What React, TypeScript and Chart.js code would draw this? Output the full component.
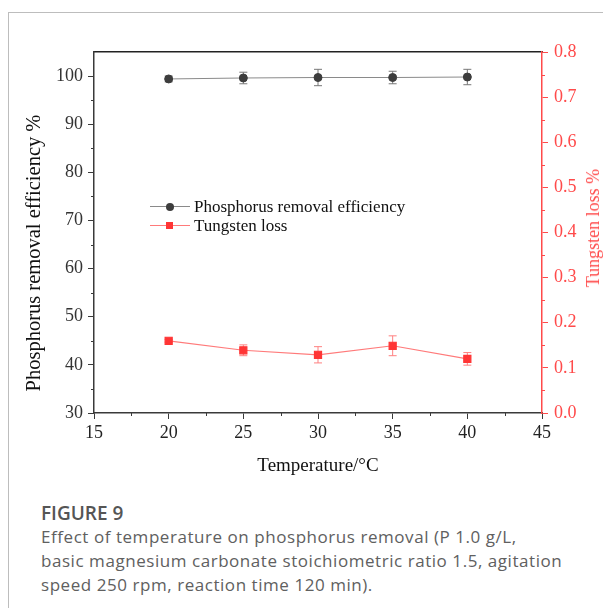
import React, { useEffect, useRef } from "react";
import { Chart, registerables } from "chart.js";
Chart.register(...registerables);

const temperatures = [20, 25, 30, 35, 40];
const phosphorusEff = [99.4, 99.6, 99.7, 99.7, 99.8];
const phosphorusErr = [0.6, 1.2, 1.7, 1.3, 1.6];
const tungstenLoss = [0.16, 0.139, 0.129, 0.149, 0.12];
const tungstenErr = [0.003, 0.012, 0.018, 0.022, 0.014];
const xTicks = [15, 20, 25, 30, 35, 40, 45];
const xMinor = [17.5, 22.5, 27.5, 32.5, 37.5, 42.5];
const leftTicks = [30, 40, 50, 60, 70, 80, 90, 100];
const leftMinor = [35, 45, 55, 65, 75, 85, 95];
const rightTicks = [0, 0.1, 0.2, 0.3, 0.4, 0.5, 0.6, 0.7, 0.8];
const rightMinor = [0.05, 0.15, 0.25, 0.35, 0.45, 0.55, 0.65, 0.75];

const SERIF = "'Liberation Serif', 'Times New Roman', serif";
const RED = "#ff4a4a";
const AXIS = "#3a3a3a";

const errorBarPlugin = {
  id: "errorBars",
  beforeDatasetDraw(chart: any, args: any) {
    const ds: any = chart.data.datasets[args.index];
    if (!ds.errors) return;
    const xs = chart.scales.x;
    const ys = chart.scales[ds.yAxisID];
    const ctx = chart.ctx;
    ctx.save();
    ctx.strokeStyle = ds.errorColor;
    ctx.lineWidth = 1;
    ds.data.forEach((p: any, i: number) => {
      const e = ds.errors[i];
      const x = xs.getPixelForValue(p.x);
      const yT = ys.getPixelForValue(p.y + e);
      const yB = ys.getPixelForValue(p.y - e);
      ctx.beginPath();
      ctx.moveTo(x, yT);
      ctx.lineTo(x, yB);
      ctx.moveTo(x - 4, yT);
      ctx.lineTo(x + 4, yT);
      ctx.moveTo(x - 4, yB);
      ctx.lineTo(x + 4, yB);
      ctx.stroke();
    });
    ctx.restore();
  },
};

const minorTickPlugin = {
  id: "minorTicks",
  afterDraw(chart: any) {
    const ctx = chart.ctx;
    const { x, y, y1 } = chart.scales;
    const a = chart.chartArea;
    ctx.save();
    ctx.lineWidth = 1;
    ctx.strokeStyle = AXIS;
    ctx.beginPath();
    xMinor.forEach((v) => {
      const px = Math.round(x.getPixelForValue(v)) + 0.5;
      ctx.moveTo(px, a.bottom);
      ctx.lineTo(px, a.bottom + 3);
    });
    leftMinor.forEach((v) => {
      const py = Math.round(y.getPixelForValue(v)) + 0.5;
      ctx.moveTo(a.left, py);
      ctx.lineTo(a.left - 3, py);
    });
    ctx.stroke();
    ctx.strokeStyle = RED;
    ctx.beginPath();
    rightMinor.forEach((v) => {
      const py = Math.round(y1.getPixelForValue(v)) + 0.5;
      ctx.moveTo(a.right, py);
      ctx.lineTo(a.right + 3, py);
    });
    ctx.stroke();
    ctx.restore();
  },
};

export default function App() {
  const ref = useRef<HTMLCanvasElement>(null);
  useEffect(() => {
    const chart = new Chart(ref.current as HTMLCanvasElement, {
      type: "line",
      data: {
        datasets: [
          {
            label: "Phosphorus removal efficiency",
            data: temperatures.map((t, i) => ({ x: t, y: phosphorusEff[i] })),
            yAxisID: "y",
            borderColor: "#8a8a8a",
            borderWidth: 1,
            pointStyle: "circle",
            pointRadius: 4,
            pointBackgroundColor: "#3d3d3d",
            pointBorderColor: "#3d3d3d",
            errors: phosphorusErr,
            errorColor: "#777777",
          } as any,
          {
            label: "Tungsten loss",
            data: temperatures.map((t, i) => ({ x: t, y: tungstenLoss[i] })),
            yAxisID: "y1",
            borderColor: "#ff7a7a",
            borderWidth: 1.2,
            pointStyle: "rect",
            pointRadius: 5,
            pointBackgroundColor: "#ff3535",
            pointBorderColor: "#ff3535",
            errors: tungstenErr,
            errorColor: "#ff8080",
          } as any,
        ],
      },
      options: {
        animation: false,
        responsive: false,
        maintainAspectRatio: false,
        layout: { padding: { top: 44, left: 0, right: 0, bottom: 0 } },
        plugins: { legend: { display: false }, tooltip: { enabled: false } },
        scales: {
          x: {
            type: "linear",
            position: "bottom",
            min: 15,
            max: 45,
            afterBuildTicks: (s: any) => {
              s.ticks = xTicks.map((v) => ({ value: v }));
            },
            afterFit: (s: any) => {
              s.height = 75;
            },
            ticks: {
              autoSkip: false,
              maxRotation: 0,
              padding: 3,
              color: "#222",
              font: { family: SERIF, size: 18 },
              callback: (v: any) => String(v),
            },
            grid: { display: true, drawOnChartArea: false, drawTicks: true, tickLength: 6, tickColor: AXIS, color: AXIS },
            border: { display: true, color: AXIS, width: 1.5 },
            title: {
              display: true,
              text: "Temperature/°C",
              color: "#111",
              font: { family: SERIF, size: 19 },
              padding: { top: 0, bottom: 11 },
            },
          },
          xTop: {
            type: "linear",
            position: "top",
            min: 15,
            max: 45,
            ticks: { display: false },
            grid: { display: false, drawTicks: false },
            border: { display: true, color: "#222", width: 1.5 },
            afterFit: (s: any) => {
              s.height = 0;
            },
          },
          y: {
            type: "linear",
            position: "left",
            min: 30,
            max: 105,
            afterBuildTicks: (s: any) => {
              s.ticks = leftTicks.map((v) => ({ value: v }));
            },
            afterFit: (s: any) => {
              s.width = 86;
            },
            ticks: {
              padding: 5,
              color: "#333",
              font: { family: SERIF, size: 18 },
              callback: (v: any) => String(v),
            },
            grid: { display: true, drawOnChartArea: false, drawTicks: true, tickLength: 6, tickColor: AXIS, color: AXIS },
            border: { display: true, color: AXIS, width: 1.5 },
            title: {
              display: true,
              text: "Phosphorus removal efficiency %        ",
              color: "#111",
              font: { family: SERIF, size: 20.5 },
              padding: { top: 14, bottom: 0 },
            },
          },
          y1: {
            type: "linear",
            position: "right",
            min: 0,
            max: 0.8,
            afterBuildTicks: (s: any) => {
              s.ticks = rightTicks.map((v) => ({ value: v }));
            },
            afterFit: (s: any) => {
              s.width = 69;
            },
            ticks: {
              padding: 6,
              color: RED,
              font: { family: SERIF, size: 18 },
              callback: (v: any) => Number(v).toFixed(1),
            },
            grid: { display: true, drawOnChartArea: false, drawTicks: true, tickLength: 6, tickColor: RED, color: RED },
            border: { display: true, color: RED, width: 1.5 },
            title: { display: false },
          },
        },
      } as any,
      plugins: [errorBarPlugin, minorTickPlugin],
    });
    return () => chart.destroy();
  }, []);

  const legendRow = (color: string, marker: React.ReactNode, text: string, top: number) => (
    <div style={{ position: "absolute", left: 142, top, height: 19, display: "flex", alignItems: "center" }}>
      <div style={{ position: "relative", width: 40, height: 19 }}>
        <div style={{ position: "absolute", left: 0, right: 0, top: 9, height: 1, background: color }} />
        {marker}
      </div>
      <span style={{ marginLeft: 4, fontFamily: SERIF, fontSize: 17, color: "#111", whiteSpace: "nowrap" }}>{text}</span>
    </div>
  );

  return (
    <div style={{ position: "relative", width: 603, height: 600 }}>
      <div
        style={{
          position: "absolute",
          left: 0,
          top: 4,
          width: 603,
          height: 604,
          borderTop: "1px solid #bdbdbd",
          borderLeft: "1px solid #bdbdbd",
          boxSizing: "border-box",
        }}
      />
      <canvas ref={ref} width={603} height={480} style={{ position: "absolute", left: 0, top: 0, width: 603, height: 480 }} />
      <div
        style={{
          position: "absolute",
          left: 585,
          top: 220,
          transform: "translate(-50%, -50%) rotate(-90deg)",
          fontFamily: SERIF,
          fontSize: 18,
          color: RED,
          whiteSpace: "nowrap",
          lineHeight: "20px",
        }}
      >
        Tungsten loss %
      </div>
      {legendRow(
        "#8a8a8a",
        <div style={{ position: "absolute", left: 16, top: 6, width: 8, height: 8, borderRadius: 4, background: "#3d3d3d" }} />,
        "Phosphorus removal efficiency",
        189
      )}
      {legendRow(
        "#ff7a7a",
        <div style={{ position: "absolute", left: 16, top: 6, width: 7, height: 7, background: "#ff3535" }} />,
        "Tungsten loss",
        208
      )}
      <div
        style={{
          position: "absolute",
          left: 33,
          top: 493,
          width: 570,
          fontFamily: "'Open Sans', sans-serif",
          fontSize: 17,
          letterSpacing: "0.55px",
          lineHeight: "24px",
          color: "#606060",
        }}
      >
        <div style={{ fontWeight: 600, fontSize: 19, letterSpacing: "0px", color: "#555" }}>FIGURE 9</div>
        <div>
          Effect of temperature on phosphorus removal (P 1.0 g/L,
          <br />
          basic magnesium carbonate stoichiometric ratio 1.5, agitation
          <br />
          speed 250 rpm, reaction time 120 min).
        </div>
      </div>
    </div>
  );
}
